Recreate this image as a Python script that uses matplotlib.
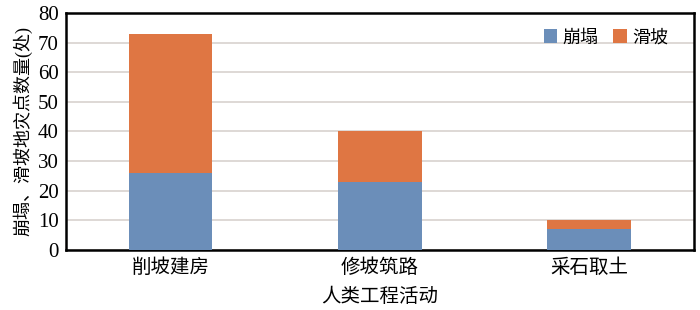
import numpy as np
import matplotlib
matplotlib.use("Agg")
import matplotlib.pyplot as plt

plt.rcParams['font.family'] = ['Liberation Serif', 'Noto Sans CJK SC', 'DejaVu Sans']

categories = ["削坡建房", "修坡筑路", "采石取土"]
collapse = [26, 23, 7]    # 崩塌
landslide = [47, 17, 3]   # 滑坡
series_names = ["崩塌", "滑坡"]
colors = ["#6B8EB9", "#DF7643"]

fig = plt.figure(figsize=(7, 3.1), dpi=100)
ax = fig.add_axes([0.094, 0.194, 0.897, 0.764])

x = np.arange(len(categories))
ax.bar(x, collapse, width=0.4, color=colors[0], label=series_names[0], zorder=3)
ax.bar(x, landslide, width=0.4, bottom=collapse, color=colors[1], label=series_names[1], zorder=3)

ax.set_xlim(-0.5, len(categories) - 0.5)
ax.set_ylim(0, 80)
ax.set_yticks(np.arange(0, 81, 10))
ax.yaxis.grid(True, color="#D8D2CE", linewidth=1.2, zorder=0)
ax.set_axisbelow(True)

ax.set_xticks(x)
ax.set_xticklabels(categories, fontsize=14)
ax.tick_params(axis='both', length=0, pad=6)
ax.tick_params(axis='y', labelsize=15, pad=5)
for s in ax.spines.values():
    s.set_color("black")
    s.set_linewidth(1.8)

ax.set_ylabel("崩塌、滑坡地灾点数量(处)", fontsize=13, labelpad=4)
ax.set_xlabel("人类工程活动", fontsize=14, labelpad=8)

ax.legend(loc="upper right", ncol=2, frameon=False, fontsize=13,
          handlelength=0.75, handleheight=0.75, handletextpad=0.3,
          columnspacing=0.8, bbox_to_anchor=(0.985, 1.0))

fig.savefig("out.png", dpi=100)
